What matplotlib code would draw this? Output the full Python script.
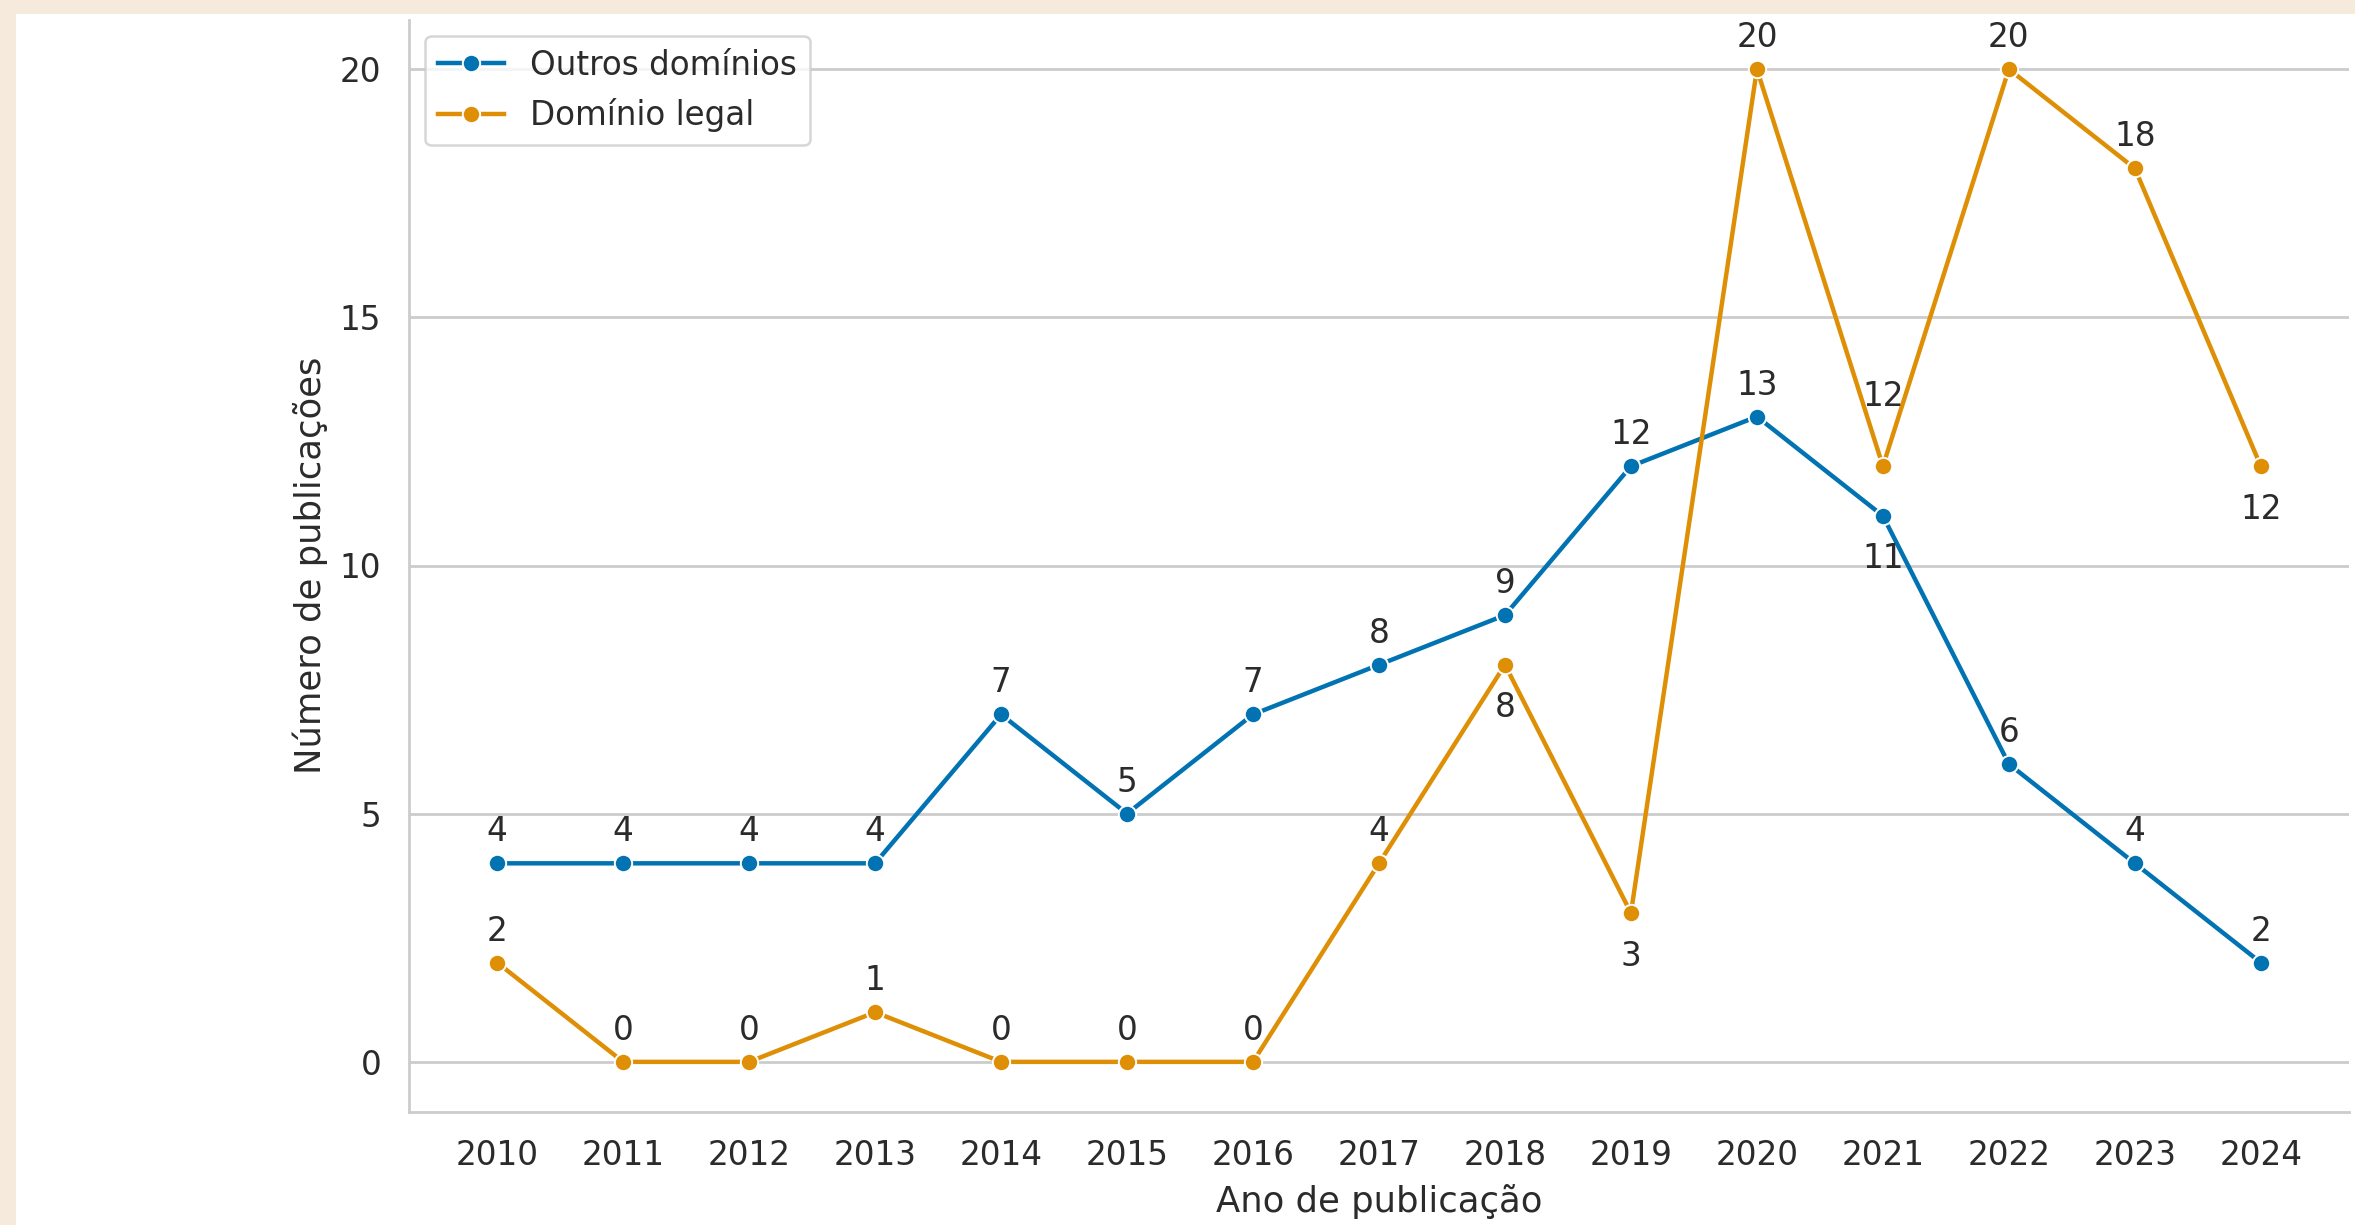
import matplotlib.pyplot as plt
import matplotlib.patches as patches
import numpy as np

# data
anos = list(range(2010, 2025))
outros = [4, 4, 4, 4, 7, 5, 7, 8, 9, 12, 13, 11, 6, 4, 2]
legal = [2, 0, 0, 1, 0, 0, 0, 4, 8, 3, 20, 12, 20, 18, 12]
rotulos = ['Outros domínios', 'Domínio legal']

# where each number label goes: 'a' above, 'b' below, 'A' well above
lado_outros = ['a'] * 11 + ['b'] + ['a'] * 3
lado_legal = ['a'] * 8 + ['b', 'b', 'a', 'A', 'a', 'a', 'b']

azul = '#0173b2'
laranja = '#de8f05'
texto = '#2b2b2b'
cinza = '#cccccc'
fs = 23.5

plt.rcParams['font.family'] = 'DejaVu Sans'

fig = plt.figure(figsize=(23.55, 12.25), dpi=100)
fig.patch.set_facecolor('#f6eadc')
# white screenshot area (beige strip on top and left)
fig.patches.append(patches.Rectangle((16 / 2355, 0), 1, (1225 - 14) / 1225,
                                     transform=fig.transFigure, facecolor='white',
                                     edgecolor='none', zorder=-1))

W, H = 2355, 1225
ax = fig.add_axes([409 / W, (H - 1111.5) / H, (2349 - 409) / W, (1111.5 - 19.5) / H])
ax.set_facecolor('white')

for ys, cor, nome in [(outros, azul, rotulos[0]), (legal, laranja, rotulos[1])]:
    ax.plot(anos, ys, color=cor, lw=3.2, marker='o', markersize=12.5,
            markeredgecolor='white', markeredgewidth=1.4, label=nome, zorder=3)

offs = {'a': 22.7, 'b': -31, 'A': 50}
for ys, lados in [(outros, lado_outros), (legal, lado_legal)]:
    for x, y, l in zip(anos, ys, lados):
        ax.annotate(str(y), (x, y), xytext=(0, offs[l]), textcoords='offset points',
                    ha='center', va='center', fontsize=fs, color=texto, zorder=4)

ax.set_xticks(anos)
ax.set_yticks([0, 5, 10, 15, 20])
ax.set_xlim(2009.3, 2024.7)
ax.set_ylim(-1, 21)
ax.tick_params(axis='both', length=0, pad=20, labelsize=fs, labelcolor=texto)

ax.grid(axis='y', color=cinza, lw=2.0)
ax.grid(axis='x', visible=False)
ax.set_axisbelow(True)
for s in ['top', 'right']:
    ax.spines[s].set_visible(False)
for s in ['left', 'bottom']:
    ax.spines[s].set_color(cinza)
    ax.spines[s].set_linewidth(2.0)

ax.set_xlabel('Ano de publicação', fontsize=25.5, color=texto, labelpad=8.5)
ax.set_ylabel('Número de publicações', fontsize=25.5, color=texto, labelpad=8.5)

leg = ax.legend(loc='upper left', fontsize=fs, frameon=True, fancybox=True,
                framealpha=0.8, edgecolor=cinza)
leg.get_frame().set_linewidth(1.8)
for t in leg.get_texts():
    t.set_color(texto)

fig.savefig('out.png', dpi=100, facecolor=fig.get_facecolor())
